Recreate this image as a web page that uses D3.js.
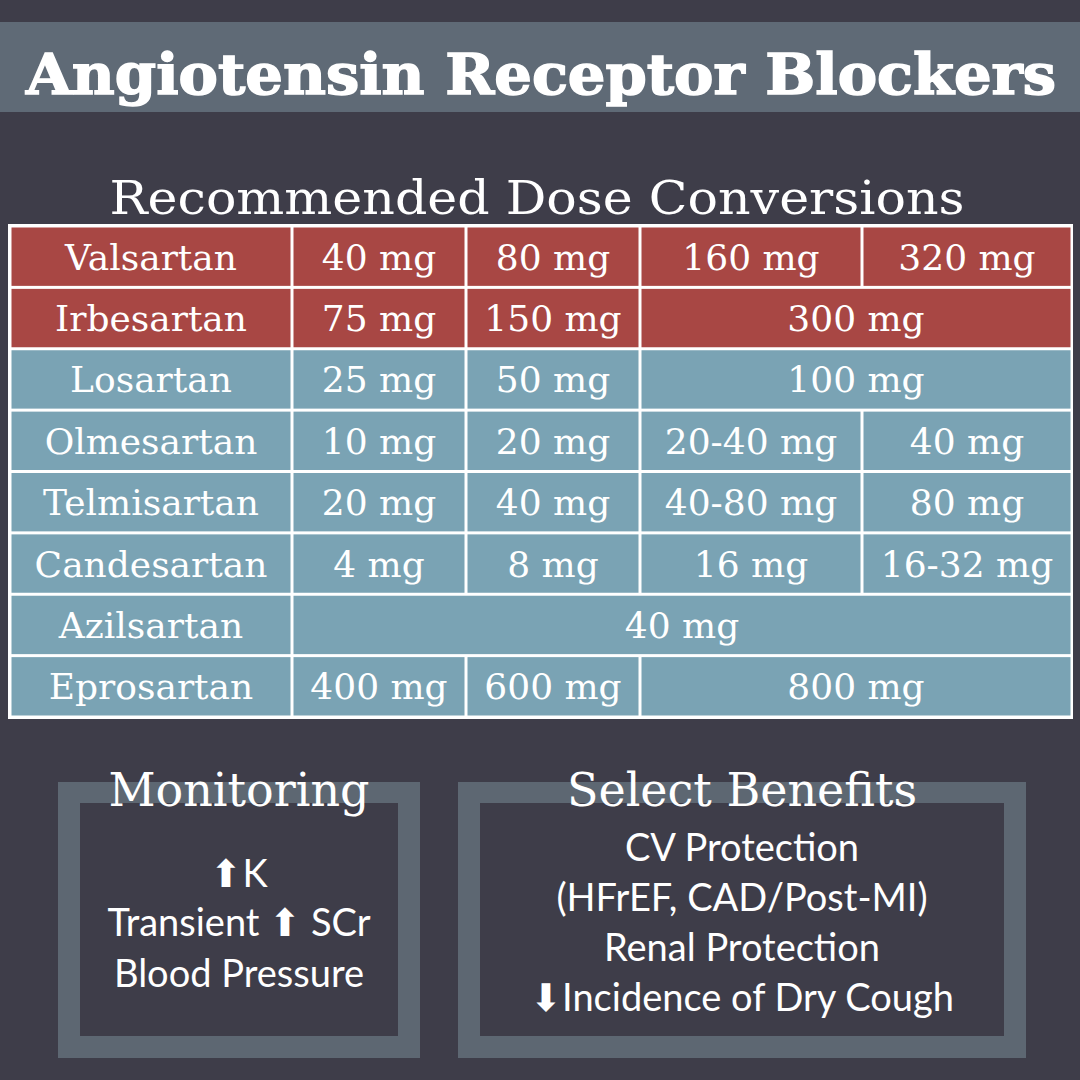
<!DOCTYPE html><html><head><meta charset="utf-8">
<script src="https://cdn.jsdelivr.net/npm/d3@7"></script>
<style>body{margin:0;background:#3e3d49}</style></head><body>
<script>
const drugs=["Valsartan","Irbesartan","Losartan","Olmesartan","Telmisartan","Candesartan","Azilsartan","Eprosartan"];
const rowColors=["red","red","blue","blue","blue","blue","blue","blue"];
// each row: [label, startCol, span]
const doses=[
 [["40 mg",0,1],["80 mg",1,1],["160 mg",2,1],["320 mg",3,1]],
 [["75 mg",0,1],["150 mg",1,1],["300 mg",2,2]],
 [["25 mg",0,1],["50 mg",1,1],["100 mg",2,2]],
 [["10 mg",0,1],["20 mg",1,1],["20-40 mg",2,1],["40 mg",3,1]],
 [["20 mg",0,1],["40 mg",1,1],["40-80 mg",2,1],["80 mg",3,1]],
 [["4 mg",0,1],["8 mg",1,1],["16 mg",2,1],["16-32 mg",3,1]],
 [["40 mg",0,4]],
 [["400 mg",0,1],["600 mg",1,1],["800 mg",2,2]]
];
const colEdges=[292,466,640,862,1072];
const monitoring=["⬆K","Transient ⬆ SCr","Blood Pressure"];
const benefits=["CV Protection","(HFrEF, CAD/Post-MI)","Renal Protection","⬇Incidence of Dry Cough"];

const svg=d3.select("body").append("svg").attr("width",1080).attr("height",1080);
svg.append("rect").attr("width",1080).attr("height",1080).attr("fill","#3e3d49");
svg.append("rect").attr("x",0).attr("y",22).attr("width",1080).attr("height",90).attr("fill","#5f6a76");
const serif="'DejaVu Serif',serif";
svg.append("text").attr("x",541).attr("y",94).attr("text-anchor","middle").attr("fill","#fff").attr("stroke","#fff").attr("stroke-width",1.5)
 .attr("font-family",serif).attr("font-weight","bold").attr("font-size",56).attr("textLength",1030).attr("lengthAdjust","spacingAndGlyphs").text("Angiotensin Receptor Blockers");
svg.append("text").attr("x",537).attr("y",214).attr("text-anchor","middle").attr("fill","#fff")
 .attr("font-family",serif).attr("font-size",46).attr("textLength",855).attr("lengthAdjust","spacingAndGlyphs").text("Recommended Dose Conversions");

const y=d3.scaleBand().domain(drugs).range([226,717]);
const colors={red:"#a84744",blue:"#7aa3b4"};
const g=svg.append("g");
g.append("rect").attr("x",8).attr("y",224).attr("width",1065).attr("height",495).attr("fill","#fff");
const pad=1.5;
drugs.forEach((d,i)=>{
 const y0=y(d),h=y.bandwidth();
 const cells=[[d,-1,1]].concat(doses[i]);
 cells.forEach(([t,s,sp])=>{
  const x0=s<0?10:colEdges[s], x1=s<0?292:colEdges[s+sp];
  g.append("rect").attr("x",x0+pad).attr("y",y0+pad).attr("width",x1-x0-2*pad).attr("height",h-2*pad).attr("fill",colors[rowColors[i]]);
  const w=x1-x0;
  const tx=g.append("text").attr("x",(x0+x1)/2).attr("y",y0+h/2+13).attr("text-anchor","middle").attr("fill","#fff")
   .attr("font-family",serif).attr("font-size",36).text(t);
  const L=tx.node().getComputedTextLength();
  if(L>w-8) tx.attr("textLength",w-8).attr("lengthAdjust","spacingAndGlyphs");
 });
});

function box(x0,x1,title,lines,ys){
 svg.append("rect").attr("x",x0).attr("y",782).attr("width",x1-x0).attr("height",276).attr("fill","#5d6772");
 svg.append("rect").attr("x",x0+22).attr("y",803).attr("width",x1-x0-44).attr("height",233).attr("fill","#3e3d49");
 svg.append("text").attr("x",(x0+x1)/2).attr("y",806).attr("text-anchor","middle").attr("fill","#fff")
  .attr("font-family",serif).attr("font-size",46).text(title);
 lines.forEach((l,i)=>svg.append("text").attr("x",(x0+x1)/2).attr("y",ys[i]).attr("text-anchor","middle").attr("fill","#fff")
  .attr("font-family","Lato,sans-serif").attr("font-size",38).text(l));
}
box(58,420,"Monitoring",monitoring,[887,936,987]);
box(458,1026,"Select Benefits",benefits,[861,911,961,1011]);
</script></body></html>
